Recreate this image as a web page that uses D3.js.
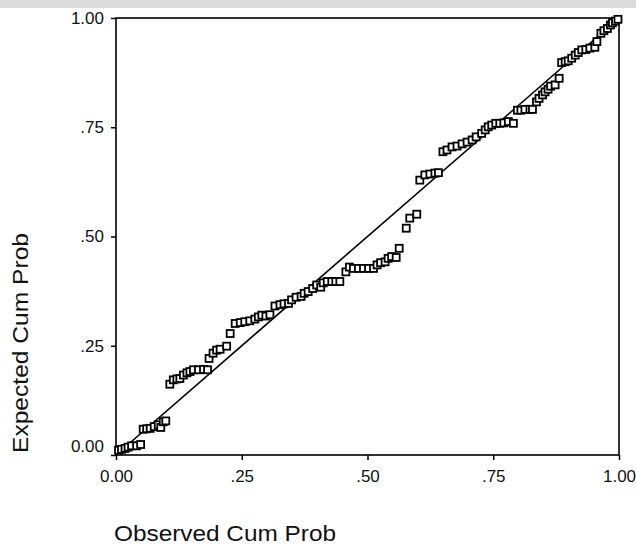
<!DOCTYPE html>
<html>
<head>
<meta charset="utf-8">
<script src="https://cdn.jsdelivr.net/npm/d3@7"></script>
<style>
  body { margin: 0; background: #fff; }
  svg { display: block; font-family: Arial, "Liberation Sans", sans-serif; }
  .tick line { stroke: #000; stroke-width: 1.5; }
  .tick text { font-size: 17px; fill: #111; }
</style>
</head>
<body>
<script>
/* observed vs expected cumulative probabilities */
const observed = [
  .005, .011, .018, .024, .031, .041, .049,
  .054, .061, .068, .076, .084, .089, .094, .099,
  .107, .114, .121, .127, .134, .141, .147, .154, .164, .174, .182,
  .185, .193, .200, .207, .220, .227,
  .237, .247, .256, .266, .276, .283, .290, .298, .306,
  .316, .326, .334, .343, .349, .358, .368, .374, .382, .391, .399, .407,
  .412, .420, .429, .437, .445,
  .457, .464, .472, .482, .492, .502, .512,
  .519, .526, .535, .541, .548, .557, .563,
  .577, .584, .598,
  .604, .614, .624, .634, .641,
  .650, .658, .668, .678, .688, .698, .708, .716,
  .727, .734, .740, .747, .755, .763, .771, .780, .790,
  .798, .805, .813, .823, .828,
  .836, .841, .848, .853, .859, .864, .873, .881,
  .886, .893, .899, .906, .913, .919, .926, .934, .942, .952,
  .956, .964, .970, .977, .983, .987, .993, .998
];
const expected = [
  .011, .013, .015, .018, .021, .021, .024,
  .059, .060, .061, .065, .069, .063, .076, .078,
  .162, .172, .174, .175, .183, .188, .191, .195, .195, .196, .195,
  .221, .233, .240, .242, .249, .278,
  .301, .303, .305, .307, .311, .316, .320, .318, .321,
  .341, .344, .346, .347, .355, .361, .363, .370, .374, .381, .389, .384,
  .394, .397, .397, .397, .397,
  .419, .430, .427, .427, .427, .427, .427,
  .435, .440, .442, .450, .454, .452, .473,
  .519, .542, .551,
  .629, .641, .643, .645, .646,
  .694, .698, .705, .707, .712, .716, .721, .728,
  .736, .744, .751, .755, .759, .759, .760, .763, .759,
  .789, .789, .791, .791, .791,
  .808, .816, .824, .831, .837, .844, .847, .862,
  .898, .900, .902, .908, .915, .921, .927, .928, .931, .933,
  .946, .965, .971, .976, .984, .989, .993, .997
];
const tickValues = [0, .25, .5, .75, 1];
const tickLabels = ['0.00', '.25', '.50', '.75', '1.00'];

const W = 636, H = 548;
let margin = { top: 18, right: 17, bottom: 93, left: 116 },
  width = W - margin.left - margin.right,
  height = H - margin.top - margin.bottom;

const xScale = d3.scaleLinear().domain([0, 1]).range([0, width]);
const yScale = d3.scaleLinear().domain([0, 1]).range([height, 0]);

const root = d3.select('body').append('svg')
  .attr('width', W)
  .attr('height', H);

// grey scan band along the top edge
root.append('rect')
  .attr('x', 0).attr('y', 0)
  .attr('width', W).attr('height', 8)
  .style('fill', '#dcdcdc');

const svg = root.append('g')
  .attr('transform', 'translate(' + margin.left + ',' + margin.top + ')');

/* axes */
const xAxis = d3.axisBottom(xScale)
  .tickValues(tickValues)
  .tickSize(5)
  .tickPadding(10)
  .tickFormat((d, i) => tickLabels[i]);

const yAxis = d3.axisLeft(yScale)
  .tickValues(tickValues)
  .tickSize(5)
  .tickPadding(7)
  .tickFormat((d, i) => tickLabels[i]);

const gx = svg.append('g')
  .attr('transform', 'translate(0,' + height + ')')
  .call(xAxis);
gx.select('.domain').remove();

const gy = svg.append('g').call(yAxis);
gy.select('.domain').remove();
// bottom label sits a little above the corner
gy.selectAll('.tick text').filter(d => d === 0).attr('dy', '-0.2em');

/* frame */
svg.append('rect')
  .attr('width', width)
  .attr('height', height)
  .style('fill', 'none')
  .style('stroke', '#000')
  .style('stroke-width', 1.6);

/* reference diagonal */
svg.append('line')
  .attr('x1', xScale(0)).attr('y1', yScale(0))
  .attr('x2', xScale(1)).attr('y2', yScale(1))
  .style('stroke', '#000')
  .style('stroke-width', 1.6);

/* points */
const s = 7;
svg.selectAll('.pt')
  .data(observed)
  .enter().append('rect')
  .attr('class', 'pt')
  .attr('x', d => xScale(d) - s / 2)
  .attr('y', (d, i) => yScale(expected[i]) - s / 2)
  .attr('width', s)
  .attr('height', s)
  .style('fill', '#fff')
  .style('stroke', '#000')
  .style('stroke-width', 1.8);

/* axis titles */
root.append('text')
  .attr('x', 114)
  .attr('y', 541)
  .attr('textLength', 222)
  .attr('lengthAdjust', 'spacingAndGlyphs')
  .style('font-size', '22px')
  .style('fill', '#111')
  .text('Observed Cum Prob');

root.append('text')
  .attr('transform', 'translate(28,343) rotate(-90)')
  .attr('text-anchor', 'middle')
  .attr('textLength', 220)
  .attr('lengthAdjust', 'spacingAndGlyphs')
  .style('font-size', '22px')
  .style('fill', '#111')
  .text('Expected Cum Prob');
</script>
</body>
</html>
